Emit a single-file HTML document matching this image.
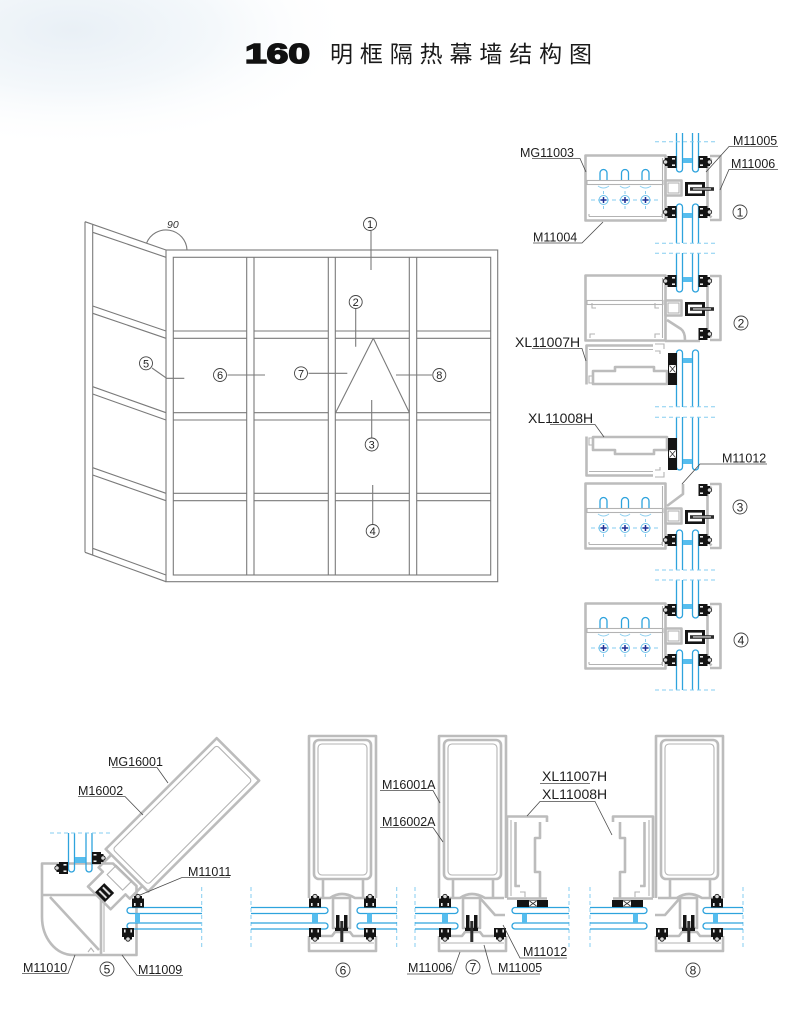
<!DOCTYPE html>
<html><head><meta charset="utf-8"><style>
html,body{margin:0;padding:0;background:#fff;}
svg{display:block}
.p{fill:none;stroke:#bcbcbc;stroke-width:2.6;stroke-linejoin:round}
.q{fill:none;stroke:#b3b3b3;stroke-width:1.1}
.gl{fill:none;stroke:#2ea3dd;stroke-width:1.3}
.sp{fill:#56bdee}
.d{fill:none;stroke:#86cdf0;stroke-width:1;stroke-dasharray:4 3}
.e{fill:none;stroke:#7a7a7a;stroke-width:1.1}
.ld{fill:none;stroke:#4a4a4a;stroke-width:0.8}
.k{fill:#141414}
.lb{font-family:"Liberation Sans",sans-serif;font-size:12.5px;fill:#1d1d1d}
.xl{font-family:"Liberation Sans",sans-serif;font-size:14px;fill:#1d1d1d}
.cn{font-family:"Liberation Sans",sans-serif;font-size:11px;fill:#222;text-anchor:middle}
.cc{fill:#fff;stroke:#444;stroke-width:0.9}
</style></head><body>
<svg width="800" height="1009" viewBox="0 0 800 1009" xmlns="http://www.w3.org/2000/svg">
<defs>
<radialGradient id="bg" cx="0.2" cy="0.2" r="0.8">
 <stop offset="0" stop-color="#e9f0f6"/>
 <stop offset="0.5" stop-color="#f4f8fb"/>
 <stop offset="1" stop-color="#ffffff" stop-opacity="0"/>
</radialGradient>
<g id="gk"><rect x="-3.5" y="-6" width="9" height="12" class="k"/><rect x="-6" y="-4" width="3" height="8" class="k"/><circle cx="-5.5" cy="0" r="2.2" fill="#d8d8d8" stroke="#111" stroke-width="0.8"/><rect x="1" y="-4" width="3" height="1.6" fill="#eee"/><rect x="1" y="2.4" width="3" height="1.6" fill="#eee"/></g>
<g id="bh"><rect x="0" y="0" width="3" height="14" class="k"/><rect x="17" y="0" width="3" height="14" class="k"/><rect x="0" y="0" width="20" height="2.6" class="k"/><rect x="0" y="11.4" width="20" height="2.6" class="k"/><rect x="5" y="5.2" width="24" height="3.6" fill="#2b2b2b"/><rect x="8" y="6.3" width="18" height="1.3" fill="#cfcfcf"/></g>
<g id="ch"><circle r="4.5" fill="none" stroke="#6cc0ea" stroke-width="1"/><path d="M-3 0H3M0 -3V3" stroke="#1d2f95" stroke-width="1.5"/><path d="M0 -9V-6M0 6V9" stroke="#6cc0ea" stroke-width="0.8"/></g>
<g id="trb">
 <rect x="1.5" y="1.5" width="80" height="65" class="p"/>
 <line x1="78.5" y1="4" x2="78.5" y2="64" class="q"/>
 <rect x="3" y="26.5" width="76" height="4" class="q"/>
 <rect x="81.5" y="26.5" width="16" height="15" class="p"/>
 <rect x="84" y="29" width="11" height="10" class="q"/>
 <path class="p" d="M126 2H136.5V66H126"/>
 <path class="p" d="M127.5 4.5L123.5 8.5V59.5L127.5 63.5"/>
 <use href="#bh" x="101" y="28"/>
</g>
<g id="trx">
 <path class="gl" d="M16 26V19a3.5 3.5 0 0 1 7 0V26M37.5 26V19a3.5 3.5 0 0 1 7 0V26M58 26V19a3.5 3.5 0 0 1 7 0V26"/>
 <path d="M14 32Q19.5 36 25 32M36 32Q41 36 46 32M56 32Q61.5 36 67 32" fill="none" stroke="#8fd0f0" stroke-width="1"/>
 <path class="d" d="M7 46H74"/>
 <use href="#ch" x="19.5" y="46"/><use href="#ch" x="41" y="46"/><use href="#ch" x="61.5" y="46"/>
 <path class="q" d="M5 62.5H78M5 62.5V60M78 62.5V60"/>
</g>
<g id="xl7">
 <path class="p" d="M653 345.5H586.5V384.5"/>
 <path class="q" d="M589 349.5H653"/>
 <path class="q" d="M655 344h9v5M655 351h5v3"/>
 <path class="p" d="M593 384V371H615V367H654V371H667V384Z"/>
 <path class="q" d="M592 376h-3v7h3"/>
</g>
<g id="xg"><rect x="0" y="0" width="9" height="32" class="k"/><rect x="1" y="12" width="7" height="8" fill="#fff"/><path d="M1.5 12.5L7.5 19.5M7.5 12.5L1.5 19.5" stroke="#333" stroke-width="0.8"/></g>
<g id="mu">
 <path class="p" d="M1 163V1H68V163M1 201V216H68V201"/>
 <rect x="6" y="5" width="57" height="139" rx="5" class="p" stroke-width="2"/>
 <rect x="10" y="9" width="49" height="131" rx="4" class="q"/>
 <path class="p" d="M15 144V163M55 144V163"/>
 <path class="p" d="M3 163H22Q33.5 155 47 163H66"/>
 <rect x="25" y="163" width="17" height="30" class="p" stroke-width="2"/>
 <path class="p" d="M3 201H24L27 197H42L45 201H66"/>
 <path class="q" d="M3 208H66"/>
 <rect x="28" y="180" width="3.5" height="16" class="k"/><rect x="36" y="180" width="3.5" height="16" class="k"/><rect x="27" y="193" width="13" height="3" class="k"/><rect x="32.3" y="186" width="3" height="21" fill="#2b2b2b"/>
</g>
<g id="xf">
 <path class="p" d="M507 898V816.5H547V822"/>
 <path class="q" d="M511 820V896"/>
 <path class="p" d="M515.5 822V886H520"/>
 <path class="p" d="M540 822V838H535V872H540V898"/>
 <path class="p" d="M507 898.5H547"/>
 <path class="q" d="M520 892h5v5"/>
 <rect x="517" y="900" width="31" height="7" class="k"/><rect x="529" y="900.5" width="8" height="6" fill="#fff"/><path d="M529.5 901L536.5 906M536.5 901L529.5 906" stroke="#333" stroke-width="0.8"/>
</g>
</defs>

<rect x="0" y="0" width="800" height="1009" fill="#fff"/>
<rect x="0" y="0" width="360" height="150" fill="url(#bg)"/>

<!-- title -->
<text x="245" y="63" style="font-family:'Liberation Sans',sans-serif;font-weight:bold;font-size:28px" textLength="65" lengthAdjust="spacingAndGlyphs" fill="#111" stroke="#111" stroke-width="1.6">160</text>
<text x="330" y="62" style="font-family:'Liberation Sans','Noto Sans CJK SC',sans-serif;font-size:23px" textLength="262" fill="#1a1a1a">明框隔热幕墙结构图</text>

<!-- elevation -->
<g class="e">
 <rect x="166" y="250" width="331.7" height="331.7"/>
 <rect x="173.3" y="257.3" width="317.4" height="317.7"/>
 <path d="M246.7 257.3V575M254 257.3V575M328.3 257.3V575M335.3 257.3V575M409.3 257.3V575M416.7 257.3V575"/>
 <path d="M173.3 331H246.7M254 331H328.3M335.3 331H409.3M416.7 331H490.7M173.3 338.3H246.7M254 338.3H328.3M335.3 338.3H409.3M416.7 338.3H490.7"/>
 <path d="M173.3 412.7H246.7M254 412.7H328.3M335.3 412.7H409.3M416.7 412.7H490.7M173.3 420H246.7M254 420H328.3M335.3 420H409.3M416.7 420H490.7"/>
 <path d="M173.3 493.3H246.7M254 493.3H328.3M335.3 493.3H409.3M416.7 493.3H490.7M173.3 500.7H246.7M254 500.7H328.3M335.3 500.7H409.3M416.7 500.7H490.7"/>
 <path d="M85 221.7V552.3M92.7 224.4V555.1M85 221.7L166 250M92.7 232.3L166 257.3M85 552.3L166 581.7M92.7 548.3L166 575"/>
 <path d="M92.7 306L166 331M92.7 313.3L166 338.3M92.7 386.7L166 412.7M92.7 394L166 420M92.7 467.7L166 493.3M92.7 475L166 500.7"/>
 <path d="M373.3 338.3L335.7 412.5M373.3 338.3L409.3 412.5"/>
 <path d="M146.5 243.2A21 21 0 0 1 187 250"/>
 <path d="M371 231V270M355.7 309V346.7M308.5 373.3H347.3M396 375H432M227.5 375H265M152 368L166.7 378.3H184.3M371.7 400V437.5M372.7 485V524"/>
</g>
<text x="167" y="228" style="font-family:'Liberation Sans',sans-serif;font-size:10.5px;font-style:italic" fill="#333">90</text>
<g>
 <circle cx="370" cy="224" r="6.5" class="cc"/><text x="370" y="228" class="cn">1</text>
 <circle cx="355.7" cy="302" r="6.5" class="cc"/><text x="355.7" y="306" class="cn">2</text>
 <circle cx="371.7" cy="444.5" r="6.5" class="cc"/><text x="371.7" y="448.5" class="cn">3</text>
 <circle cx="372.7" cy="531" r="6.5" class="cc"/><text x="372.7" y="535" class="cn">4</text>
 <circle cx="146" cy="363.3" r="6.5" class="cc"/><text x="146" y="367.3" class="cn">5</text>
 <circle cx="220" cy="375" r="6.5" class="cc"/><text x="220" y="379" class="cn">6</text>
 <circle cx="301" cy="373.3" r="6.5" class="cc"/><text x="301" y="377.3" class="cn">7</text>
 <circle cx="439.3" cy="375" r="6.5" class="cc"/><text x="439.3" y="379" class="cn">8</text>
</g>

<!-- right column: glass -->
<path class="gl" d="M676.5 133V169A3 3 0 0 0 682.5 169V133M692.5 133V169A3 3 0 0 0 698.5 169V133"/>
<path class="gl" d="M676.5 243V207A3 3 0 0 1 682.5 207V243M692.5 243V207A3 3 0 0 1 698.5 207V243"/>
<path class="gl" d="M676.5 253V289A3 3 0 0 0 682.5 289V253M692.5 253V289A3 3 0 0 0 698.5 289V253"/>
<path class="gl" d="M676.5 407V353A3 3 0 0 1 682.5 353V407M692.5 407V353A3 3 0 0 1 698.5 353V407"/>
<path class="gl" d="M676.5 417V467A3 3 0 0 0 682.5 467V417M692.5 417V467A3 3 0 0 0 698.5 467V417"/>
<path class="gl" d="M676.5 570V533A3 3 0 0 1 682.5 533V570M692.5 570V533A3 3 0 0 1 698.5 533V570"/>
<path class="gl" d="M676.5 580V615A3 3 0 0 0 682.5 615V580M692.5 580V615A3 3 0 0 0 698.5 615V580"/>
<path class="gl" d="M676.5 690V653A3 3 0 0 1 682.5 653V690M692.5 690V653A3 3 0 0 1 698.5 653V690"/>
<g class="sp">
 <rect x="683" y="158" width="9" height="5"/><rect x="683" y="213" width="9" height="5"/><rect x="683" y="277" width="9" height="5"/><rect x="683" y="358" width="9" height="5"/>
 <rect x="683" y="459" width="9" height="5"/><rect x="683" y="540" width="9" height="5"/><rect x="683" y="604" width="9" height="5"/><rect x="683" y="659" width="9" height="5"/>
</g>
<path class="d" d="M655 141.7H718M655 243.3H718M655 253.3H718M655 406.7H718M655 417.3H718M655 570H718M655 580H718M655 690H718"/>

<!-- section 1 -->
<g transform="translate(584,154)"><use href="#trb"/><use href="#trx"/></g>
<use href="#gk" transform="translate(671,162)"/><use href="#gk" transform="translate(704,162) scale(-1,1)"/>
<use href="#gk" transform="translate(671,212)"/><use href="#gk" transform="translate(704,212) scale(-1,1)"/>

<!-- section 2 -->
<g transform="translate(584,274)"><use href="#trb"/></g>
<path class="q" d="M592 303v5h4M655 303v5h4M590 338v-4h5M655 338v-4h5"/>
<path class="p" d="M667 320L681 329Q685 332 685 340"/>
<path class="p" d="M665 341H700"/>
<use href="#gk" transform="translate(671,281)"/><use href="#gk" transform="translate(704,281) scale(-1,1)"/>
<use href="#gk" transform="translate(704,334) scale(-1,1)"/>
<use href="#xl7"/>
<use href="#xg" transform="translate(668,353)"/>
<use href="#xl7" transform="matrix(1 0 0 -1 0 821)"/>
<use href="#xg" transform="translate(668,438)"/>

<!-- section 3 -->
<g transform="translate(584,482)"><use href="#trb"/><use href="#trx"/></g>
<path class="p" d="M667 506L683 494V484"/>
<use href="#gk" transform="translate(704,490) scale(-1,1)"/>
<use href="#gk" transform="translate(671,540)"/><use href="#gk" transform="translate(704,540) scale(-1,1)"/>

<!-- section 4 -->
<g transform="translate(584,602)"><use href="#trb"/><use href="#trx"/></g>
<use href="#gk" transform="translate(671,610)"/><use href="#gk" transform="translate(704,610) scale(-1,1)"/>
<use href="#gk" transform="translate(671,660)"/><use href="#gk" transform="translate(704,660) scale(-1,1)"/>

<!-- right column labels -->
<g class="ld">
 <path d="M532 158.5H580L586 172"/>
 <path d="M778 146.5H729L706 172"/>
 <path d="M778 169.5H729L720 190"/>
 <path d="M533 243H582L603 222"/>
 <path d="M532 348.5H582L586 361"/>
 <path d="M550 424.5H595L604 437"/>
 <path d="M767 464H700L682 484"/>
</g>
<text class="lb" x="520" y="157">MG11003</text>
<text class="lb" x="733" y="145">M11005</text>
<text class="lb" x="731" y="168">M11006</text>
<text class="lb" x="533" y="241.5">M11004</text>
<text class="xl" x="515" y="347">XL11007H</text>
<text class="xl" x="528" y="423">XL11008H</text>
<text class="lb" x="722" y="462.5">M11012</text>
<g>
 <circle cx="740" cy="212" r="7" class="cc"/><text x="740" y="216.5" class="cn" style="font-size:12px">1</text>
 <circle cx="741" cy="323" r="7" class="cc"/><text x="741" y="327.5" class="cn" style="font-size:12px">2</text>
 <circle cx="740" cy="507" r="7" class="cc"/><text x="740" y="511.5" class="cn" style="font-size:12px">3</text>
 <circle cx="741" cy="640" r="7" class="cc"/><text x="741" y="644.5" class="cn" style="font-size:12px">4</text>
</g>

<!-- bottom: section 5 -->
<path class="p" d="M42 863.5H113L136.5 886V955H73A31 38 0 0 1 42 917Z"/>
<path class="p" d="M42 895H101V955"/>
<path class="p" d="M50 897L99 950"/>
<path class="q" d="M104 897V952M88 952l3-4 3 4"/>
<g transform="translate(216.7,736.7) rotate(45)">
 <rect x="1" y="1" width="60" height="157" class="p"/>
 <rect x="6" y="6" width="50" height="147" rx="3" class="q"/>
 <path class="p" d="M9 158V176H15V197H47V176H53V158"/>
 <rect x="20" y="162" width="22" height="13" class="q"/>
 <rect x="24" y="183" width="14" height="13" class="k"/>
 <rect x="26" y="186" width="10" height="2" fill="#ddd"/>
 <rect x="26" y="191" width="10" height="2" fill="#ddd"/>
</g>
<path class="gl" d="M68.5 833V869A3 3 0 0 0 74.5 869V833M86 833V869A3 3 0 0 0 92 869V833"/>
<rect x="75" y="857" width="10.5" height="6" class="sp"/>
<path class="d" d="M50 833H113"/>
<use href="#gk" transform="translate(62.5,868)"/>
<use href="#gk" transform="translate(97.5,858) scale(-1,1)"/>
<path class="gl" d="M202 907.5H130A3 3 0 0 0 130 913.5H202M202 923H130A3 3 0 0 0 130 929H202"/>
<rect x="135" y="913.5" width="5" height="9.5" class="sp"/>
<use href="#gk" transform="translate(138,902) rotate(90)"/>
<use href="#gk" transform="translate(128,933.5) rotate(-90)"/>

<!-- bottom dashed verticals -->
<path class="d" d="M201.7 887V950M251 887V950M396.7 887V950M415 887V950M569 887V950M590 887V950M743 887V950"/>

<!-- bottom glass -->
<path class="gl" d="M251 907.5H325A3 3 0 0 1 325 913.5H251M251 923H325A3 3 0 0 1 325 929H251"/>
<path class="gl" d="M397 907.5H360A3 3 0 0 0 360 913.5H397M397 923H360A3 3 0 0 0 360 929H397"/>
<path class="gl" d="M415 907.5H455A3 3 0 0 1 455 913.5H415M415 923H455A3 3 0 0 1 455 929H415"/>
<path class="gl" d="M569 907.5H515A3 3 0 0 0 515 913.5H569M569 923H515A3 3 0 0 0 515 929H569"/>
<path class="gl" d="M590 907.5H644A3 3 0 0 1 644 913.5H590M590 923H644A3 3 0 0 1 644 929H590"/>
<path class="gl" d="M743 907.5H706A3 3 0 0 0 706 913.5H743M743 923H706A3 3 0 0 0 706 929H743"/>
<g class="sp">
 <rect x="312" y="913.5" width="6" height="9.5"/><rect x="367" y="913.5" width="5" height="9.5"/>
 <rect x="442" y="913.5" width="6" height="9.5"/><rect x="522" y="913.5" width="5" height="9.5"/>
 <rect x="633" y="913.5" width="5" height="9.5"/><rect x="713" y="913.5" width="5" height="9.5"/>
</g>

<!-- section 6 -->
<use href="#mu" transform="translate(308,735)"/>
<use href="#gk" transform="translate(315,902) rotate(90)"/><use href="#gk" transform="translate(315,933.5) rotate(-90)"/>
<use href="#gk" transform="translate(370,902) rotate(90)"/><use href="#gk" transform="translate(370,933.5) rotate(-90)"/>

<!-- section 7 -->
<use href="#mu" transform="translate(438,735)"/>
<use href="#gk" transform="translate(445,902) rotate(90)"/><use href="#gk" transform="translate(445,933.5) rotate(-90)"/>
<use href="#gk" transform="translate(500,933.5) rotate(-90)"/>
<path class="p" d="M480 898L495 915H505"/>
<use href="#xf"/>

<!-- section 8 -->
<use href="#mu" transform="translate(655,735)"/>
<use href="#gk" transform="translate(717,902) rotate(90)"/><use href="#gk" transform="translate(717,933.5) rotate(-90)"/>
<use href="#gk" transform="translate(662,933.5) rotate(-90)"/>
<path class="p" d="M680 898L665 915H655"/>
<use href="#xf" transform="matrix(-1 0 0 1 1160 0)"/>

<!-- bottom labels -->
<g class="ld">
 <path d="M112 767.5H157L168 783"/>
 <path d="M78 796.5H125L143 815"/>
 <path d="M230 877.5H182L140 895"/>
 <path d="M22 973.5H68L75 955"/>
 <path d="M183 975.5H137L122 955"/>
 <path d="M380 790.5H433L440 803"/>
 <path d="M380 827.5H433L443 842"/>
 <path d="M540 783.5H590"/>
 <path d="M527 816L540 801.5H595L612 835"/>
 <path d="M567 958H520L503 925"/>
 <path d="M540 974H492L484 945"/>
 <path d="M407 974H452L460 952"/>
</g>
<text class="lb" x="108" y="766">MG16001</text>
<text class="lb" x="78" y="795">M16002</text>
<text class="lb" x="188" y="876">M11011</text>
<text class="lb" x="23" y="972">M11010</text>
<text class="lb" x="138" y="974">M11009</text>
<text class="lb" x="382" y="789">M16001A</text>
<text class="lb" x="382" y="826">M16002A</text>
<text class="xl" x="542" y="781">XL11007H</text>
<text class="xl" x="542" y="799">XL11008H</text>
<text class="lb" x="523" y="956">M11012</text>
<text class="lb" x="498" y="972">M11005</text>
<text class="lb" x="408" y="972">M11006</text>
<g>
 <circle cx="107" cy="969" r="7" class="cc"/><text x="107" y="973.5" class="cn" style="font-size:12px">5</text>
 <circle cx="343" cy="970" r="7" class="cc"/><text x="343" y="974.5" class="cn" style="font-size:12px">6</text>
 <circle cx="473" cy="967" r="7" class="cc"/><text x="473" y="971.5" class="cn" style="font-size:12px">7</text>
 <circle cx="693" cy="970" r="7" class="cc"/><text x="693" y="974.5" class="cn" style="font-size:12px">8</text>
</g>
</svg>
</body></html>
